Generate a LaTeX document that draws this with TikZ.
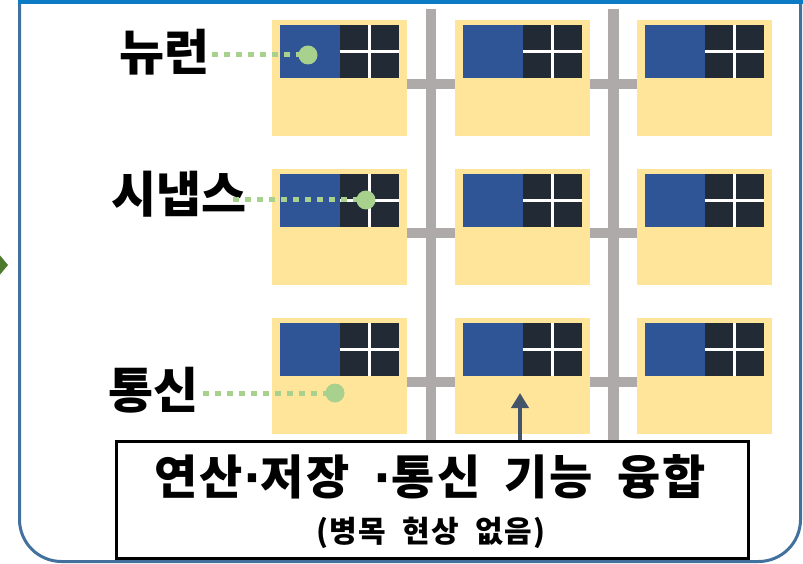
\documentclass[tikz,border=0pt]{standalone}
\usepackage{fontspec}
\newfontfamily\kr{Noto Sans CJK KR}
\newfontfamily\krsp{Noto Sans CJK KR}[LetterSpace=5]
\newfontfamily\dv{DejaVu Sans}
\usetikzlibrary{backgrounds,arrows.meta}
\definecolor{yel}{HTML}{FFE599}
\definecolor{blu}{HTML}{2F5597}
\definecolor{drk}{HTML}{222A35}
\definecolor{gry}{HTML}{AEAAAA}
\definecolor{grn}{HTML}{A9D18E}
\definecolor{arr}{HTML}{44546A}
\definecolor{frm}{HTML}{41719C}
\definecolor{topb}{HTML}{0B7BC6}
\definecolor{chev}{HTML}{4E7A2E}
\tikzset{
  tile/.style={fill=yel, draw=none, minimum width=135pt, minimum height=116pt, inner sep=0pt, anchor=north west},
  bar/.style={gry, line width=10.5pt},
  lbl/.style={font=\kr\bfseries\fontsize{49}{54}\selectfont, anchor=east, inner sep=0pt},
  dot/.style={circle, fill=grn, draw=none, minimum size=19pt, inner sep=0pt},
  dotline/.style={grn, line width=5pt, dash pattern=on 6pt off 6pt},
}
\begin{document}
\begin{tikzpicture}[x=1pt,y=-1pt]
\useasboundingbox (0,0) rectangle (803,564);
% frame
\draw[frm, line width=3pt, rounded corners=42pt] (19.5,-60) -- (19.5,561.5) -- (800.5,561.5) -- (800.5,-60);
\fill[topb] (18,0) rectangle (803,4);
\fill[chev] (-2,253) -- (8,265) -- (-2,277) -- cycle;
% tiles
\foreach \r/\Y in {1/20,2/169,3/318}{
  \foreach \c/\X in {1/272,2/455,3/637}{
    \node[tile] (t\r\c) at (\X,\Y) {};
    \fill[blu] (\X+8,\Y+5) rectangle (\X+68,\Y+58);
    \fill[drk] (\X+68,\Y+5) rectangle (\X+127,\Y+58);
    \draw[white, line width=2.2pt] (\X+97.5,\Y+5) -- (\X+97.5,\Y+58);
    \draw[white, line width=2.2pt] (\X+68,\Y+31.5) -- (\X+127,\Y+31.5);
  }
}
\begin{scope}[on background layer]
  \draw[bar] (431,9) -- (431,445);
  \draw[bar] (613.5,9) -- (613.5,445);
  \foreach \r/\Y in {1/20,2/169,3/318}{
    \draw[bar] (340,\Y+64) -- (700,\Y+64);
  }
\end{scope}
% labels
\node[lbl] (l1) at (210,52) {뉴런};
\node[lbl] (l2) at (247,194) {시냅스};
\node[lbl] (l3) at (199,390) {통신};
\node[dot] (d1) at (308,55) {};
\node[dot] (d2) at (366,200) {};
\node[dot] (d3) at (335,393) {};
\draw[dotline] (212,55) -- (d1.center);
\draw[dotline] (233,200) -- (d2.center);
\draw[dotline] (203,393) -- (d3.center);
% box
\node[draw=black, fill=white, line width=3pt, minimum width=632pt, minimum height=117pt, inner sep=0pt] (box) at (432,499.5) {};
\node[font=\krsp\bfseries\fontsize{47}{52}\selectfont, inner sep=0pt, anchor=west] (t1) at (154,477) {연산{\dv\bfseries·}저장\hspace{24pt}{\dv\bfseries·}통신\hspace{24pt}기능\hspace{24pt}융합};
\node[font=\krsp\bfseries\fontsize{30}{34}\selectfont, inner sep=0pt] (t2) at (431,533) {(병목\hspace{8pt} 현상\hspace{8pt} 없음)};
\coordinate (atip) at (520,393);
\draw[arr, line width=4pt, -{Triangle[width=17pt,length=15pt]}] (box.north -| atip) -- (atip);
\end{tikzpicture}
\end{document}
